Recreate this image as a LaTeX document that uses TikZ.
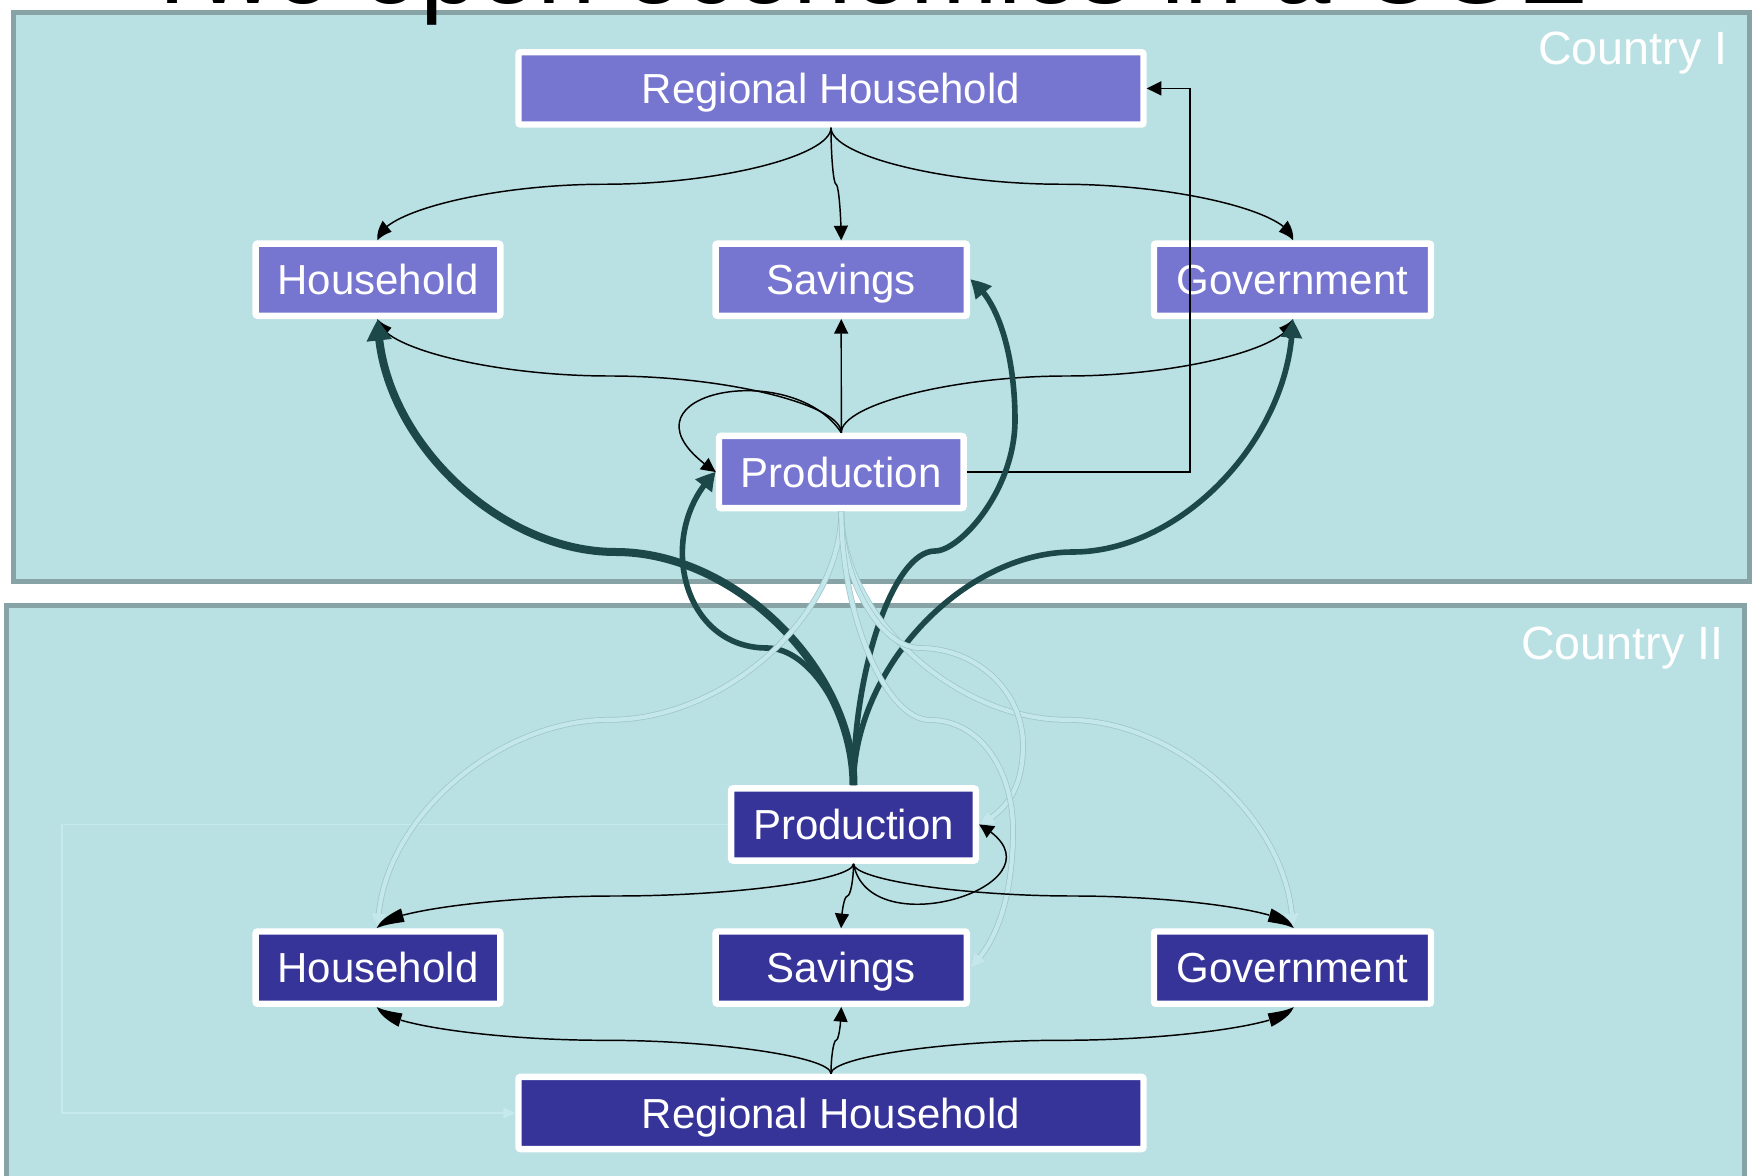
\documentclass[tikz,border=0pt]{standalone}
\usepackage{fontspec}
\setmainfont{Liberation Sans}
\usetikzlibrary{arrows.meta,bending,shadows}

\definecolor{panelfill}{RGB}{185,224,227}
\definecolor{paneledge}{RGB}{135,163,166}
\definecolor{boxone}{RGB}{118,117,208}
\definecolor{boxtwo}{RGB}{54,51,153}
\definecolor{darkflow}{RGB}{29,72,73}
\definecolor{paleflow}{RGB}{196,231,235}
\definecolor{paleedge}{RGB}{158,198,202}
\definecolor{faintflow}{RGB}{198,233,236}

\tikzset{every picture/.style={line width=0.75pt}}
\tikzset{
  box/.style={draw=white, line width=4.8pt, rounded corners=1.5pt, text=white, inner sep=0pt,
    minimum height=54.2pt, text height=22.6pt, text depth=0pt,
    font=\fontsize{31.5}{36}\selectfont,
    drop shadow={shadow xshift=1.2pt, shadow yshift=-1.6pt, opacity=.3, fill=black}},
  boxI/.style={box, fill=boxone},
  boxII/.style={box, fill=boxtwo},
  panel/.style={draw=paneledge, fill=panelfill, line width=3.8pt},
  country/.style={text=white, font=\fontsize{35}{40}\selectfont, anchor=base east, inner sep=0pt},
  flow/.style={draw=black, line width=1.1pt, -{Triangle[length=11pt,width=10.5pt,bend]}},
  thick flow/.style={draw=darkflow, line width=4.2pt, -{Triangle[length=14pt,width=15pt,bend]}},
  pale flow/.style={draw=paleflow, line width=3.2pt, preaction={draw=paleedge, line width=4.3pt},
    -{Triangle[length=11pt,width=10.5pt,bend]}},
  faint flow/.style={draw=faintflow, line width=1.1pt, -{Triangle[length=9pt,width=8pt]}},
}

\begin{document}
\begin{tikzpicture}[x=0.75pt,y=0.75pt,yscale=-1,xscale=1]
\useasboundingbox (0,0) rectangle (1754,1176);
\fill[white] (0,0) rectangle (1754,1176);

%Shape: Rectangle, Country I
\draw[panel] (13.5,12.5) rectangle (1749.5,581.5);
%Shape: Rectangle, Country II
\draw[panel] (6.5,605.5) rectangle (1744.5,1200);

% Text Node
\node[anchor=base, inner sep=0pt, font=\fontsize{78.75}{90}\selectfont] (title) at (864,4) {Two open economies in a CGE};
% Text Node
\node[country] (cI) at (1728,65) {Country I};
% Text Node
\node[country] (cII) at (1724,660) {Country II};

% Boxes, Country I
\node[boxI, minimum width=468.7pt] (rh1) at (831,88.4) {Regional Household};
\node[boxI, minimum width=183.5pt] (hh1) at (378,279.7) {Household};
\node[boxI, minimum width=188.4pt] (sv1) at (841.2,279.7) {Savings};
\node[boxI, minimum width=207.8pt] (gv1) at (1292.5,279.7) {Government};
\node[boxI, minimum width=183.4pt] (pr1) at (841.3,472) {Production};
% Boxes, Country II
\node[boxII, minimum width=183.5pt] (pr2) at (853.5,824.5) {Production};
\node[boxII, minimum width=183.5pt] (hh2) at (378,967.6) {Household};
\node[boxII, minimum width=188.4pt] (sv2) at (841.2,967.6) {Savings};
\node[boxII, minimum width=207.8pt] (gv2) at (1292.5,967.6) {Government};
\node[boxII, minimum width=468.7pt] (rh2) at (831,1113) {Regional Household};

\coordinate (el) at (1190,472);
\coordinate (fc) at (62,1113);

%Straight Lines, faint
\draw[faint flow] (pr2.west) -| (fc) -- (rh2.west);

%Curve Lines, Country I
\draw[flow] (rh1.south) .. controls (831,156) and (717.75,184.25) .. (604.5,184.25) .. controls (491.25,184.25) and (378,212.4) .. (hh1.north);
\draw[flow] (rh1.south) .. controls (831,156) and (833.5,184.25) .. (836,184.25) .. controls (838.5,184.25) and (841,212.4) .. (sv1.north);
\draw[flow] (rh1.south) .. controls (831,156) and (946.4,184.25) .. (1061.75,184.25) .. controls (1177.1,184.25) and (1292.5,212.4) .. (gv1.north);
\draw[flow] (pr1.north) .. controls (841.3,404.5) and (725.4,376) .. (609.6,376) .. controls (493.8,376) and (378,347.5) .. (hh1.south);
\draw[flow] (pr1.north) -- (sv1.south);
\draw[flow] (pr1.north) .. controls (841.3,404.5) and (954.1,376) .. (1066.9,376) .. controls (1179.7,376) and (1292.5,347.5) .. (gv1.south);
\draw[flow] (pr1.north) .. controls (790,355) and (600,395) .. (pr1.west);
%Straight Lines
\draw[flow] (pr1.east) -- (el) |- (rh1.east);

%Curve Lines, from Production II
\draw[thick flow, line width=6pt, -{Triangle[length=16pt,width=18pt,bend]}] (pr2.north) .. controls (853.5,668.7) and (734.6,552) .. (615.75,552) .. controls (496.9,552) and (378,435.4) .. (hh1.south);
\draw[thick flow] (pr2.north) .. controls (853.5,668.7) and (963.25,552) .. (1073,552) .. controls (1182.75,552) and (1292.5,435.4) .. (gv1.south);
\draw[thick flow] (pr2.north) .. controls (853.5,716.5) and (810.5,648) .. (767,648) .. controls (680,648) and (655,530) .. (pr1.west);
\draw[thick flow] (pr2.north) .. controls (853.5,668) and (894,551) .. (935,551) .. controls (960,551) and (1015,490) .. (1015,420) .. controls (1015,360) and (1000,300) .. (sv1.east);

%Curve Lines, from Production I
\draw[pale flow] (pr1.south) .. controls (841.3,615.5) and (725.5,719.8) .. (609.65,719.8) .. controls (493.8,719.8) and (378,824.1) .. (hh2.north);
\draw[pale flow] (pr1.south) .. controls (841.3,615.5) and (954.1,719.8) .. (1066.9,719.8) .. controls (1179.7,719.8) and (1292.5,824.1) .. (gv2.north);
\draw[pale flow] (pr1.south) .. controls (841.3,579.6) and (880.65,648) .. (920,648) .. controls (975,648) and (1023,690) .. (1023,745) .. controls (1023,790) and (1005,812) .. (pr2.east);
\draw[pale flow] (pr1.south) .. controls (841.3,615.6) and (885.6,720) .. (930,720) .. controls (980,720) and (1013,770) .. (1013,830) .. controls (1013,900) and (995,945) .. (sv2.east);

%Curve Lines, Country II
\draw[flow] (pr2.south) .. controls (853.5,879.8) and (734.6,896) .. (615.75,896) .. controls (496.9,896) and (378,912.2) .. (hh2.north);
\draw[flow] (pr2.south) .. controls (853.5,879.8) and (850.4,896) .. (847.35,896) .. controls (844.3,896) and (841.2,912.2) .. (sv2.north);
\draw[flow] (pr2.south) .. controls (853.5,879.8) and (963.25,896) .. (1073,896) .. controls (1182.75,896) and (1292.5,912.2) .. (gv2.north);
\draw[flow] (pr2.south) .. controls (870,950) and (1080,880) .. (pr2.east);
\draw[flow] (rh2.north) .. controls (831,1057.1) and (717.75,1040.3) .. (604.5,1040.3) .. controls (491.25,1040.3) and (378,1023.5) .. (hh2.south);
\draw[flow] (rh2.north) .. controls (831,1057.1) and (833.55,1040.3) .. (836.1,1040.3) .. controls (838.65,1040.3) and (841.2,1023.5) .. (sv2.south);
\draw[flow] (rh2.north) .. controls (831,1057.1) and (946.4,1040.3) .. (1061.75,1040.3) .. controls (1177.1,1040.3) and (1292.5,1023.5) .. (gv2.south);

\end{tikzpicture}
\end{document}
